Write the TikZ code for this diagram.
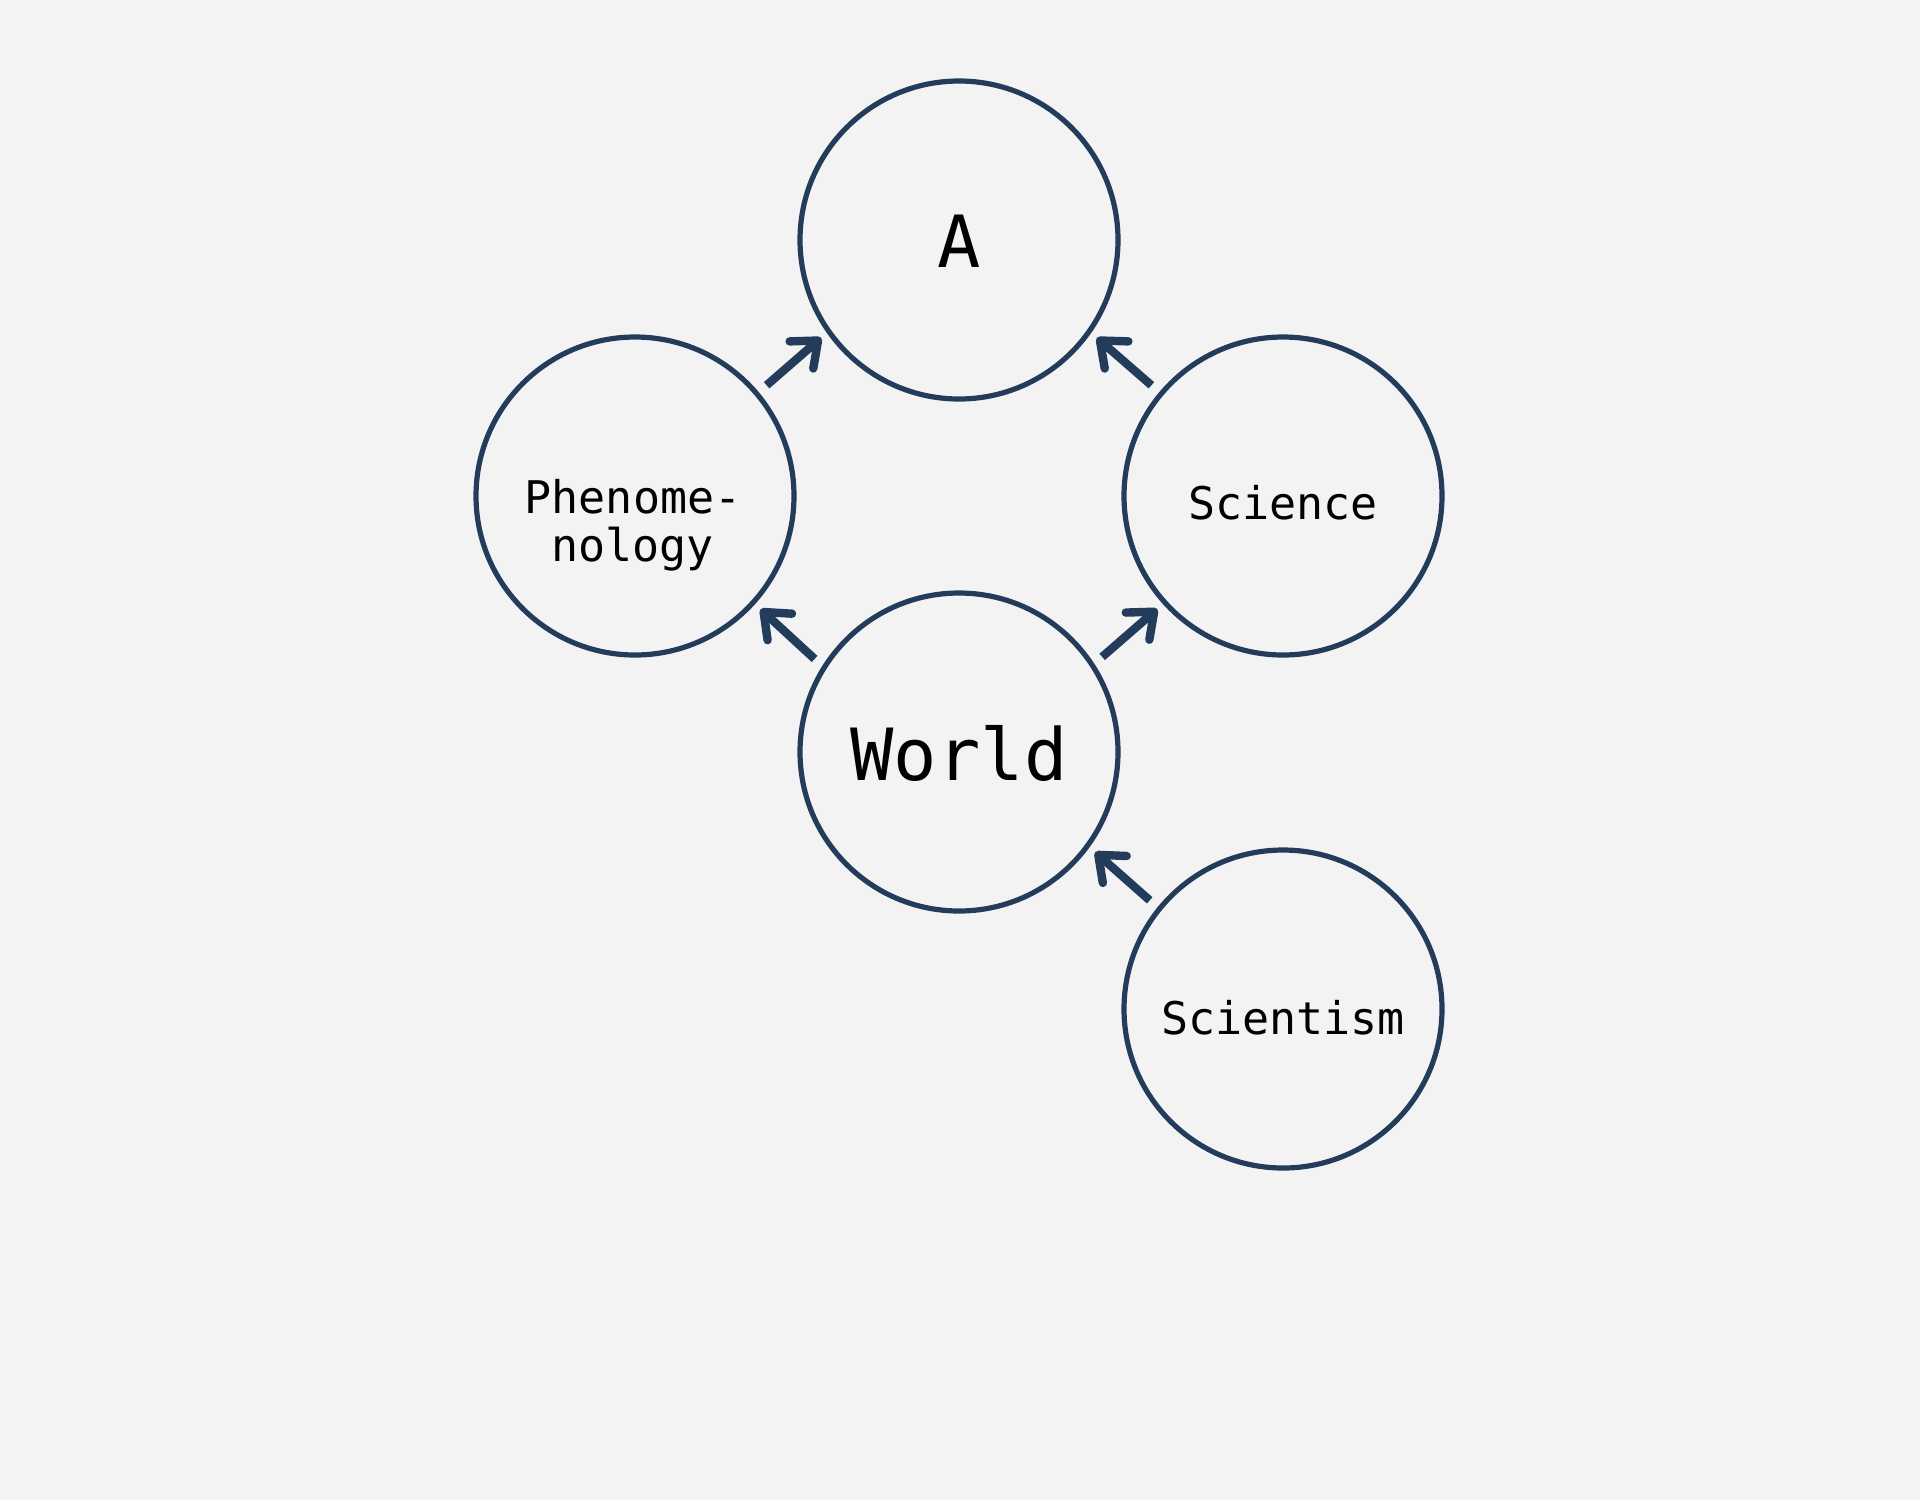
\documentclass[tikz,border=0pt]{standalone}
\usepackage{fontspec}
\setmonofont{DejaVu Sans Mono}
\usetikzlibrary{arrows.meta}
\definecolor{navy}{RGB}{36,60,92}
\definecolor{bg}{RGB}{243,243,243}
\tikzset{
  bubble/.style={circle, draw=navy, line width=2.6pt, minimum size=159pt, inner sep=0pt, outer sep=0pt},
  small/.style={font=\ttfamily\fontsize{22.5}{24}\selectfont, inner sep=0pt, anchor=base, text=black},
  big/.style={font=\ttfamily\fontsize{36}{40}\selectfont, inner sep=0pt, anchor=base, text=black},
  conn/.style={draw=navy, line width=4.2pt, line cap=butt,
    -{Straight Barb[length=11pt, width=18pt, round]},
    shorten <=6.5pt, shorten >=5pt}
}
\begin{document}
\begin{tikzpicture}[x=0.5pt, y=-0.5pt]
  \fill[bg] (0,0) rectangle (1920,1500);
  \useasboundingbox (0,0) rectangle (1920,1500);
  % circles
  \node[bubble] (A) at (959,240) {};
  \node[bubble] (phen) at (635,496) {};
  \node[bubble] (sci) at (1283,496) {};
  \node[bubble] (world) at (959,752) {};
  \node[bubble] (scm) at (1283,1009) {};
  % texts
  \node[big] (A-t) at (959.5,267.3) {A};
  \node[big] (world-t) at (959,780) {World};
  \node[small] (sci-t) at (1283,519.3) {Science};
  \node[small] (scm-t) at (1283,1034) {Scientism};
  \node[small] (phen-t1) at (633,513.3) {Phenome-};
  \node[small] (phen-t2) at (632.5,561.7) {nology};
  % connectors
  \draw[conn] (phen.40) -- (A.215);
  \draw[conn] (sci.140) -- (A.325);
  \draw[conn] (world.148) -- (phen.318);
  \draw[conn] (world.33) -- (sci.222);
  \draw[conn] (scm.141.5) -- (world.324);
\end{tikzpicture}
\end{document}
